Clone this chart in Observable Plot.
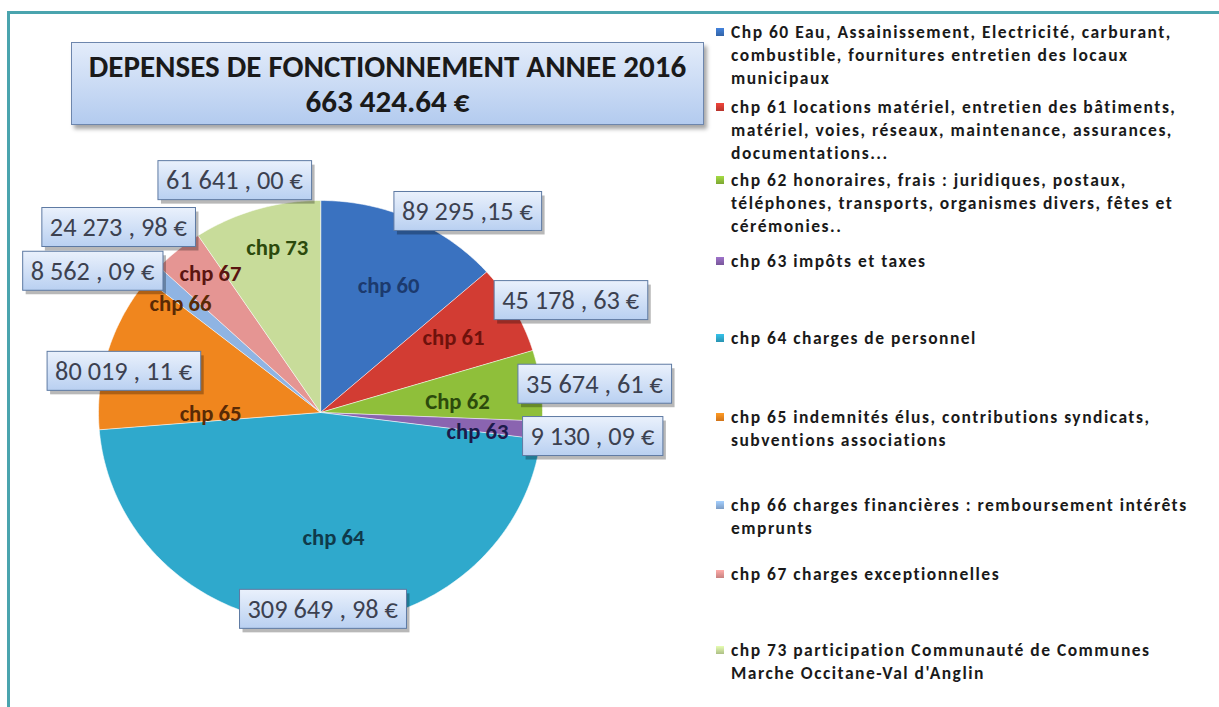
<!DOCTYPE html>
<html><head><meta charset="utf-8">
<script src="https://cdn.jsdelivr.net/npm/d3@7"></script>
<script src="https://cdn.jsdelivr.net/npm/@observablehq/plot@0.6"></script>
<style>
body{margin:0;background:#fff;}
#frame{position:relative;width:1219px;height:707px;overflow:hidden;background:#fff;}
#border{position:absolute;left:7px;top:11px;width:1300px;height:800px;border:3px solid #4aa4ae;box-sizing:border-box;}
#chart{position:absolute;left:0;top:0;}
#titlebox{position:absolute;left:71px;top:42px;width:633px;height:83px;box-sizing:border-box;border:1px solid #6d86ad;
  background:linear-gradient(#e3ecfa,#b3cbef);box-shadow:3px 4px 4px rgba(0,0,0,0.35);text-align:center;color:#1a1a1a;font-weight:bold;}
#titlebox div{position:absolute;left:0;right:0;white-space:nowrap;line-height:35px;}
.leg{position:absolute;left:731px;white-space:nowrap;color:#1a1a1a;line-height:23px;}
.sw{position:absolute;left:716px;width:8px;height:8px;}
</style></head><body><div id="frame"><div id="border"></div><div id="chart"></div><div id="titlebox"></div></div>
<script>
// ---------------- data ----------------
const categories = ["chp 60","chp 61","chp 62","chp 63","chp 64","chp 65","chp 66","chp 67","chp 73"];
const sliceLabels = ["chp 60","chp 61","Chp 62","chp 63","chp 64","chp 65","chp 66","chp 67","chp 73"];
const values = [89295.15,45178.63,35674.61,9130.09,309649.98,80019.11,8562.09,24273.98,61641.00];
const valueLabels = ["89 295 ,15 €","45 178 , 63 €","35 674 , 61 €","9 130 , 09 €","309 649 , 98 €","80 019 , 11 €","8 562 , 09 €","24 273 , 98 €","61 641 , 00 €"];
const legendLabels = [
  ["Chp 60 Eau, Assainissement, Electricité, carburant,","combustible, fournitures entretien des locaux","municipaux"],
  ["chp 61 locations matériel, entretien des bâtiments,","matériel, voies, réseaux, maintenance, assurances,","documentations..."],
  ["chp 62 honoraires, frais : juridiques, postaux,","téléphones, transports, organismes divers, fêtes et","cérémonies.."],
  ["chp 63 impôts et taxes"],
  ["chp 64 charges de personnel"],
  ["chp 65 indemnités élus, contributions syndicats,","subventions associations"],
  ["chp 66 charges financières : remboursement intérêts","emprunts"],
  ["chp 67 charges exceptionnelles"],
  ["chp 73 participation Communauté de Communes","Marche Occitane-Val d'Anglin"]
];
const titleLines = ["DEPENSES DE FONCTIONNEMENT ANNEE 2016","663 424.64 €"];

// ---------------- styles / layout ----------------
const colors = ["#3a72c0","#d23c33","#8fbf3a","#8a64b0","#2fa9cc","#f0861e","#8fb4e3","#e59593","#c8dc9a"];
const darkColors = ["#1c3a6e","#6e120c","#2c4a0c","#1d1a4a","#0f3a4a","#5a2a05","#5a2a05","#5a1510","#2c4a0c"];
const nameNudge = [2.9,-1.3,2.5,2.5,-7,-17.6,-1.8,3,2.7];
const nameRadius = [0.673,0.696,0.619,0.713,0.593,0.495,0.814,0.822,0.802];
const valueNudge = [10.7,4.2,1.2,0.5,-1.9,-4.7,-8.1,-6.2,-2.8];
const valueRadius = [1.156,1.244,1.241,1.230,0.929,0.908,1.224,1.261,1.160];
const legendTops = [32,107,180,261,338,417,505,574,650];
const W = 715, H = 707, cx = 320, cy = 412, rx = 222, ry = 212;
const FAMILY = "Carlito, Lato, 'Open Sans', sans-serif";

const ctx = document.createElement("canvas").getContext("2d");
function measure(text, weight, size){ ctx.font = `${weight} ${size}px ${FAMILY}`; return ctx.measureText(text).width; }
function fit(text, weight, target){ return 100*target/measure(text, weight, 100); }

// ---------------- geometry from data ----------------
const total = d3.sum(values);
let acc = 0;
const slices = values.map((v,i)=>{const a0=acc/total*2*Math.PI; acc+=v; const a1=acc/total*2*Math.PI; return {i,cat:categories[i],a0,a1,mid:(a0+a1)/2};});
const pts = [];
for (const s of slices){
  pts.push({cat:s.cat,x:0,y:0});
  const n = Math.max(2, Math.ceil((s.a1-s.a0)/(Math.PI/180)));
  for(let k=0;k<=n;k++){const a=s.a0+(s.a1-s.a0)*k/n; pts.push({cat:s.cat,x:Math.sin(a),y:Math.cos(a)});}
}
const outline = d3.range(0,361,2).map(d=>({x:Math.sin(d*Math.PI/180),y:Math.cos(d*Math.PI/180)}));
const rad = Math.PI/180;
const nameData = slices.map(s=>{const a=s.mid+nameNudge[s.i]*rad, r=nameRadius[s.i]; return {x:r*Math.sin(a),y:r*Math.cos(a),text:sliceLabels[s.i],dark:darkColors[s.i]};});
const valData = slices.map(s=>{const a=s.mid+valueNudge[s.i]*rad, r=valueRadius[s.i]; return {x:r*Math.sin(a),y:r*Math.cos(a),text:valueLabels[s.i]};});

const nameSize = fit("chp 60","bold",62);
const valSize = fit("61 641 , 00 €","normal",137);

const plot = Plot.plot({
  width: W, height: H, margin: 0,
  x: {domain: [-cx/rx, (W-cx)/rx], axis: null},
  y: {domain: [-(H-cy)/ry, cy/ry], axis: null},
  color: {domain: categories, range: colors},
  style: {background: "transparent", overflow: "visible"},
  marks: [
    Plot.line(pts, {x:"x", y:"y", z:"cat", fill:"cat", stroke:"#ffffff", strokeOpacity:0.55, strokeWidth:1, curve:"linear-closed"}),
    Plot.line(outline, {x:"x", y:"y", fill:"#000", stroke:"none", curve:"linear-closed", ariaLabel:"shine"}),
    ...nameData.map(d=>Plot.text([d], {x:"x", y:"y", text:"text", fill:d.dark, fontWeight:"bold", fontSize:nameSize, fontFamily:FAMILY})),
    Plot.text(valData, {x:"x", y:"y", text:"text", fill:"#3c4150", fontSize:valSize, fontFamily:FAMILY})
  ]
});
document.getElementById("chart").appendChild(plot);

// gradients
const ns = "http://www.w3.org/2000/svg";
const defs = document.createElementNS(ns,"defs");
defs.innerHTML = `
<radialGradient id="shine" cx="0.42" cy="0.35" r="0.7">
  <stop offset="0" stop-color="#fff" stop-opacity="0.18"/>
  <stop offset="0.6" stop-color="#fff" stop-opacity="0"/>
  <stop offset="1" stop-color="#000" stop-opacity="0.16"/>
</radialGradient>
<linearGradient id="boxg" x1="0" y1="0" x2="0" y2="1">
  <stop offset="0" stop-color="#eaf1fc"/><stop offset="1" stop-color="#b9d0f1"/>
</linearGradient>`;
plot.insertBefore(defs, plot.firstChild);
const shine = plot.querySelector('g[aria-label="shine"] path');
if (shine) shine.setAttribute("fill","url(#shine)");

const valueTexts = [...plot.querySelectorAll("text")].filter(t => valueLabels.includes(t.textContent));
for (const t of valueTexts){
  const vg = t.parentNode;
  const b = t.getBBox();
  const tr = t.getAttribute("transform");
  const padX = 8, h = 39;
  const yc = b.y + b.height/2;
  const mk = (dx,dy,fill,stroke,op)=>{
    const r = document.createElementNS(ns,"rect");
    r.setAttribute("x", b.x-padX+dx); r.setAttribute("y", yc-h/2+dy);
    r.setAttribute("width", b.width+2*padX); r.setAttribute("height", h);
    r.setAttribute("fill", fill); r.setAttribute("stroke", stroke);
    if (op!=null) r.setAttribute("fill-opacity", op);
    if (tr) r.setAttribute("transform", tr);
    vg.insertBefore(r, t);
  };
  mk(3,4,"#000","none",0.28);
  mk(0,0,"url(#boxg)","#5e7aa3",null);
}

// title (one block, two lines)
const tb = document.getElementById("titlebox");
const ts = fit(titleLines[0],"bold",598);
const td = document.createElement("div");
td.innerHTML = titleLines.map(s=>s.replace(/&/g,"&amp;")).join("<br>");
td.style.fontFamily = FAMILY; td.style.fontSize = ts+"px"; td.style.top = "6px";
tb.appendChild(td);

// legend (one block per entry); letter-spacing widens lines to the reference width
const frame = document.getElementById("frame");
const ls = 17.5;
const ref = legendLabels[1][0];
const spacing = Math.max(0, (445 - measure(ref,"600",ls)) / ref.length);
legendLabels.forEach((lines,i)=>{
  const sw = document.createElement("div"); sw.className="sw";
  sw.style.top=(legendTops[i]-4)+"px"; sw.style.background=`linear-gradient(${d3.color(colors[i]).brighter(0.4)},${d3.color(colors[i]).darker(0.4)})`;
  frame.appendChild(sw);
  const d=document.createElement("div"); d.className="leg";
  lines.forEach((s,k)=>{ if(k) d.appendChild(document.createElement("br")); d.appendChild(document.createTextNode(s)); });
  d.style.fontFamily=FAMILY; d.style.fontWeight="600"; d.style.fontSize=ls+"px"; d.style.letterSpacing=spacing+"px";
  d.style.top=(legendTops[i]-11.5)+"px";
  frame.appendChild(d);
});
</script></body></html>
